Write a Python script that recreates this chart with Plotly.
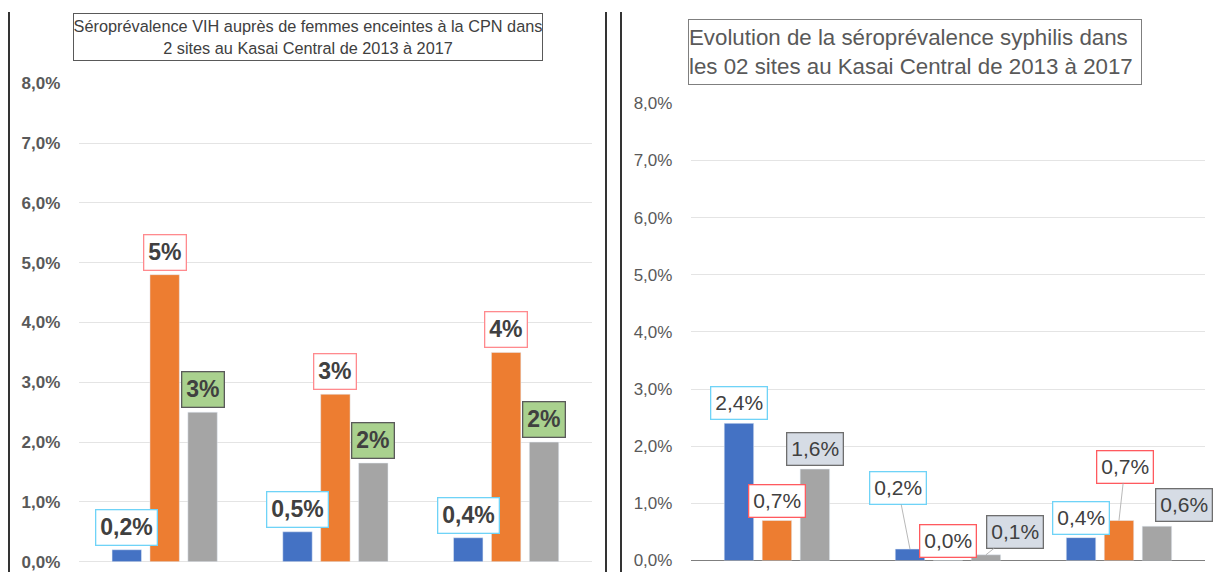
import plotly.graph_objects as go

# ---------------- data ----------------
categories = ["Site 1", "Site 2", "Total"]
series_names = ["Série 1", "Série 2", "Série 3"]
series_colors = ["#4472C4", "#ED7D31", "#A5A5A5"]

# Left chart: HIV seroprevalence
hiv_blue = [0.002, 0.005, 0.004]
hiv_orange = [0.048, 0.028, 0.035]
hiv_gray = [0.025, 0.0165, 0.020]
hiv_labels_blue = ["0,2%", "0,5%", "0,4%"]
hiv_labels_orange = ["5%", "3%", "4%"]
hiv_labels_gray = ["3%", "2%", "2%"]

# Right chart: syphilis seroprevalence
syp_blue = [0.024, 0.002, 0.004]
syp_orange = [0.007, 0.000, 0.007]
syp_gray = [0.016, 0.001, 0.006]

y_ticks = [0, 0.01, 0.02, 0.03, 0.04, 0.05, 0.06, 0.07, 0.08]

title_left = "Séroprévalence VIH auprès de femmes enceintes à la CPN dans<br>2 sites au Kasai Central de 2013 à 2017"
title_right = "Evolution de la séroprévalence syphilis dans<br>les 02 sites au Kasai Central de 2013 à 2017"

# ---------------- layout constants ----------------
W, H = 1214, 572
BARGAP = 0.334
BARGROUPGAP = 0.224
N_SER = 3
SLOT = (1 - BARGAP) / N_SER


def px_x(p):
    return p / W


def px_y(p):
    return (H - p) / H


def fmt(v):
    return f"{v * 100:.1f}%".replace(".", ",")


fig = go.Figure()

left_series = [hiv_blue, hiv_orange, hiv_gray]
right_series = [syp_blue, syp_orange, syp_gray]

for k, (name, col) in enumerate(zip(series_names, series_colors)):
    fig.add_trace(go.Bar(x=categories, y=left_series[k], name=name, marker_color=col,
                         xaxis="x", yaxis="y", showlegend=False, hoverinfo="skip"))
for k, (name, col) in enumerate(zip(series_names, series_colors)):
    fig.add_trace(go.Bar(x=categories, y=right_series[k], name=name, marker_color=col,
                         xaxis="x2", yaxis="y2", showlegend=False, hoverinfo="skip"))

annotations = []

# label styles
left_styles = [
    dict(bgcolor="white", bordercolor="#6FD3F7"),
    dict(bgcolor="white", bordercolor="#FF8A8E"),
    dict(bgcolor="#A9D18E", bordercolor="#5A5A5A"),
]
right_styles = [
    dict(bgcolor="white", bordercolor="#6FD3F7"),
    dict(bgcolor="white", bordercolor="#FF5A5F"),
    dict(bgcolor="#D6DCE5", bordercolor="#6E6E6E"),
]

left_labels = [hiv_labels_blue, hiv_labels_orange, hiv_labels_gray]
for k in range(N_SER):
    off = (k - (N_SER - 1) / 2) * SLOT
    for i in range(len(categories)):
        annotations.append(dict(
            x=i + off, y=left_series[k][i], xref="x", yref="y",
            text=left_labels[k][i], showarrow=False, xanchor="center",
            yanchor="bottom", yshift=4,
            font=dict(family="Liberation Sans", size=23, color="#404040", weight="bold"),
            borderwidth=1.3, borderpad=4, **left_styles[k]))

# right labels: placement (ax, ay, leader) per series / category; None => directly above
right_place = [
    [None, (-12, -61, True), None],
    [None, None, (6, -54, True)],
    [None, (29, -23, True), (27, -21, False)],
]
for k in range(N_SER):
    off = (k - (N_SER - 1) / 2) * SLOT
    for i in range(len(categories)):
        v = right_series[k][i]
        base = dict(x=i + off, y=v, xref="x2", yref="y2", text=fmt(v),
                    font=dict(family="Liberation Sans", size=21, color="#404040"),
                    borderwidth=1.3, borderpad=4, **right_styles[k])
        pl = right_place[k][i]
        if pl is None:
            base.update(showarrow=False, xanchor="center", yanchor="bottom", yshift=3)
        else:
            ax, ay, leader = pl
            base.update(showarrow=True, ax=ax, ay=ay, axref="pixel", ayref="pixel",
                        arrowhead=0, arrowwidth=0.8,
                        arrowcolor="#A6A6A6" if leader else "rgba(0,0,0,0)")
        annotations.append(base)

# titles
annotations.append(dict(
    x=px_x((71.7 + 543.7) / 2), y=px_y(37), xref="paper", yref="paper",
    xanchor="center", yanchor="middle",
    text=title_left, showarrow=False, align="center", valign="middle",
    width=468, height=46, borderpad=0, bordercolor="#595959", borderwidth=1,
    font=dict(family="Liberation Sans", size=16.3, color="#404040")))
annotations.append(dict(
    x=px_x((686.7 + 1143) / 2), y=px_y(52.5), xref="paper", yref="paper",
    xanchor="center", yanchor="middle",
    text=title_right, showarrow=False, align="left", valign="middle",
    width=452, height=64, borderpad=0, bordercolor="#7F7F7F", borderwidth=1,
    font=dict(family="Liberation Sans", size=22.3, color="#595959")))

shapes = []
for xp in [9, 606, 621]:
    shapes.append(dict(type="line", xref="paper", yref="paper",
                       x0=px_x(xp), x1=px_x(xp), y0=px_y(12), y1=0,
                       line=dict(color="black", width=1.6)))

tick_common = dict(range=[0, 0.08], tickvals=y_ticks, tickformat=".1%",
                   showgrid=True, gridcolor="#E4E4E4", gridwidth=1,
                   showline=False, ticks="", ticklabelstandoff=18)

fig.update_layout(
    width=W, height=H, margin=dict(l=0, r=0, t=0, b=0, autoexpand=False),
    autosize=False,
    paper_bgcolor="white", plot_bgcolor="white",
    barmode="group", bargap=BARGAP, bargroupgap=BARGROUPGAP,
    separators=", ",
    xaxis=dict(domain=[px_x(79.3), px_x(591.5)], anchor="y", type="category",
               showticklabels=False, showgrid=False, zeroline=False, showline=False,
               range=[-0.5, 2.5]),
    yaxis=dict(domain=[px_y(561.7), px_y(83.3)], anchor="x",
               zeroline=True, zerolinecolor="#E4E4E4", zerolinewidth=1,
               tickfont=dict(family="Liberation Sans", size=17, color="#595959", weight="bold"),
               **tick_common),
    xaxis2=dict(domain=[px_x(691.4), px_x(1204.5)], anchor="y2", type="category",
                showticklabels=False, showgrid=False, zeroline=False, showline=False,
                range=[-0.5, 2.5]),
    yaxis2=dict(domain=[px_y(560.5), px_y(103.3)], anchor="x2",
                zeroline=True, zerolinecolor="#7F7F7F", zerolinewidth=1.2,
                tickfont=dict(family="Liberation Sans", size=17, color="#595959"),
                **tick_common),
    annotations=annotations, shapes=shapes,
)

fig.write_html(
    "out.html",
    config={"displayModeBar": False, "responsive": False},
    post_script="document.body.style.margin='0';document.body.style.padding='0';"
                "document.documentElement.style.overflow='hidden';",
)
